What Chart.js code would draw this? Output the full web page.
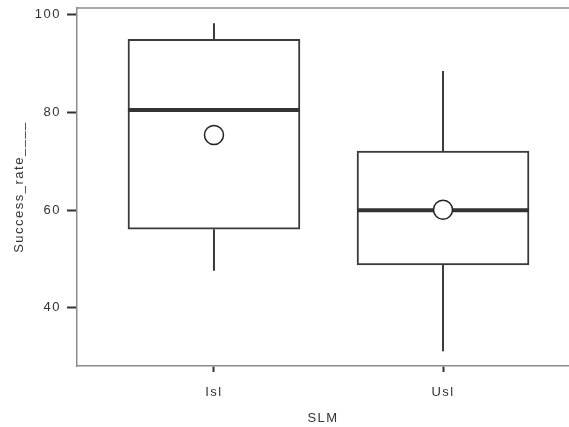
<!DOCTYPE html>
<html>
<head>
<meta charset="utf-8">
<script src="https://cdn.jsdelivr.net/npm/chart.js@4/dist/chart.umd.min.js"></script>
<style>
  html, body { margin: 0; padding: 0; background: #fff; }
  #wrap { width: 569px; height: 427px; }
</style>
</head>
<body>
<div id="wrap"><canvas id="c" width="569" height="427"></canvas></div>
<script>
const categories = ['Isl', 'Usl'];
const whiskerLow = [47.6, 31.1];
const q1 = [56.1, 48.8];
const median = [80.5, 60.0];
const q3 = [95.0, 72.1];
const whiskerHigh = [98.3, 88.5];
const means = [75.4, 60.1];
const yTicks = [40, 60, 80, 100];

const FONT = '"Liberation Sans", Arial, sans-serif';
const INK = '#3a3a3a';

const boxData = categories.map((c, i) => ({ x: i, y: [q1[i], q3[i]] }));
const whiskerData = [];
categories.forEach((c, i) => {
  whiskerData.push({ x: i, y: whiskerHigh[i] }, { x: i, y: q3[i] }, { x: i, y: null },
                   { x: i, y: q1[i] }, { x: i, y: whiskerLow[i] }, { x: i, y: null });
});
const meanData = categories.map((c, i) => ({ x: i, y: means[i] }));

const boxPlugin = {
  id: 'boxExtras',
  beforeDraw(chart) {
    chart.ctx.letterSpacing = '1.5px';
  },
  afterDatasetDraw(chart, args) {
    if (args.index !== 0) return;
    const ctx = chart.ctx;
    const ys = chart.scales.y;
    const meta = chart.getDatasetMeta(0);
    ctx.save();
    ctx.strokeStyle = '#333';
    ctx.lineWidth = 4;
    meta.data.forEach((el, i) => {
      const py = ys.getPixelForValue(median[i]);
      ctx.beginPath();
      ctx.moveTo(el.x - el.width / 2, py);
      ctx.lineTo(el.x + el.width / 2, py);
      ctx.stroke();
    });
    ctx.restore();
  },
  afterDraw(chart) {
    const a = chart.chartArea;
    const ctx = chart.ctx;
    ctx.save();
    ctx.strokeStyle = '#8c8c8c';
    ctx.lineWidth = 1.5;
    ctx.beginPath();
    ctx.moveTo(a.left, a.top);
    ctx.lineTo(chart.width, a.top);
    ctx.stroke();
    ctx.restore();
  }
};

new Chart(document.getElementById('c'), {
  data: {
    datasets: [
      {
        type: 'bar',
        data: boxData,
        backgroundColor: '#ffffff',
        borderColor: INK,
        borderWidth: 2,
        borderSkipped: false,
        barThickness: 172,
        order: 3
      },
      {
        type: 'line',
        data: whiskerData,
        borderColor: INK,
        borderWidth: 2,
        pointRadius: 0,
        spanGaps: false,
        fill: false,
        order: 2
      },
      {
        type: 'scatter',
        data: meanData,
        pointStyle: 'circle',
        pointRadius: 9.5,
        pointBackgroundColor: '#ffffff',
        pointBorderColor: '#222',
        pointBorderWidth: 1.5,
        order: 1
      }
    ]
  },
  options: {
    responsive: false,
    animation: false,
    devicePixelRatio: 1,
    layout: { autoPadding: false, padding: { top: 8, right: 0, left: 0, bottom: 0 } },
    plugins: { legend: { display: false }, tooltip: { enabled: false } },
    scales: {
      x: {
        type: 'linear',
        offset: false,
        min: -0.598,
        max: 1.550,
        afterBuildTicks(scale) { scale.ticks = categories.map((c, i) => ({ value: i })); },
        afterFit(scale) { scale.height = 61; scale.paddingLeft = 0; scale.paddingRight = 0; },
        grid: { offset: false, drawOnChartArea: false, drawTicks: true, tickLength: 6, tickColor: '#333', tickWidth: 2 },
        border: { display: true, color: '#8c8c8c', width: 1.5 },
        ticks: {
          autoSkip: false,
          maxRotation: 0,
          padding: 13,
          color: '#333',
          font: { family: FONT, size: 13 },
          callback: (v) => categories[v]
        },
        title: {
          display: true,
          text: 'SLM',
          color: '#333',
          font: { family: FONT, size: 13 },
          padding: { top: 0, bottom: 1 }
        }
      },
      y: {
        type: 'linear',
        min: 28.1,
        max: 101.4,
        afterBuildTicks(scale) { scale.ticks = yTicks.map(v => ({ value: v })); },
        afterFit(scale) { scale.width = 77; scale.paddingTop = 0; scale.paddingBottom = 0; },
        grid: { drawOnChartArea: false, drawTicks: true, tickLength: 10, tickColor: '#333', tickWidth: 2 },
        border: { display: true, color: '#8c8c8c', width: 1.5 },
        ticks: {
          padding: 6,
          color: '#333',
          font: { family: FONT, size: 13 }
        },
        title: {
          display: true,
          text: 'Success_rate____',
          color: '#333',
          font: { family: FONT, size: 13 },
          padding: { top: 12, bottom: 0 }
        }
      }
    }
  },
  plugins: [boxPlugin]
});
</script>
</body>
</html>
